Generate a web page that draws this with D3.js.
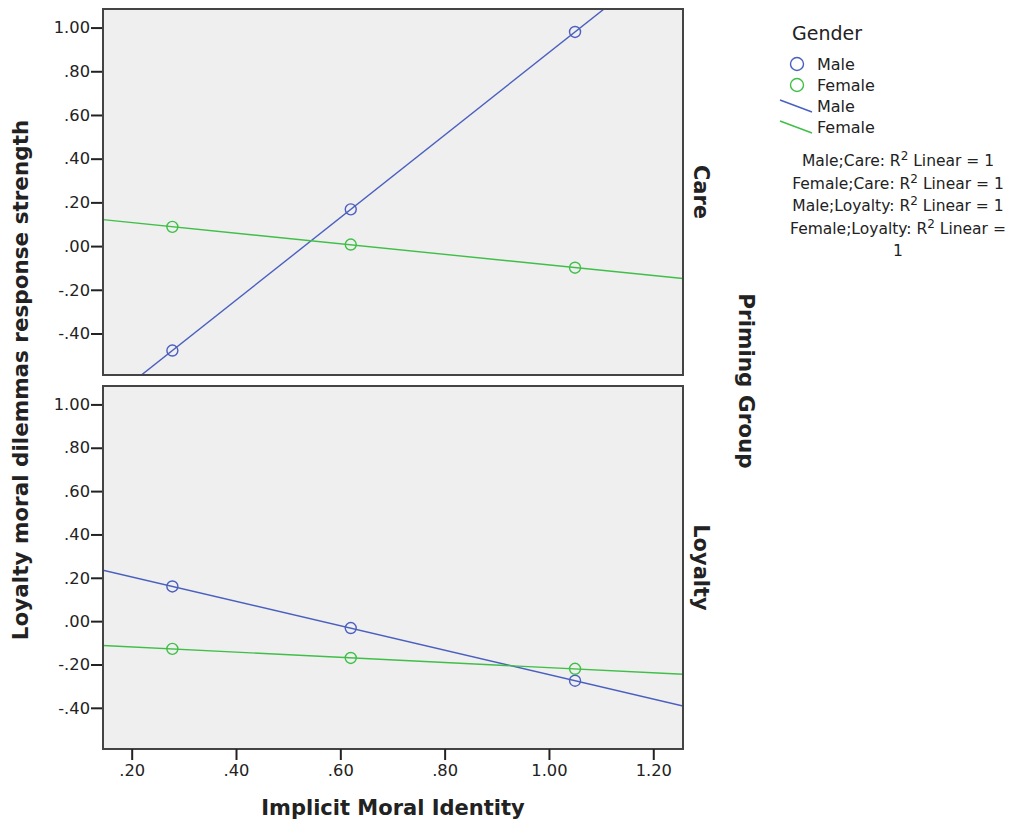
<!DOCTYPE html>
<html><head><meta charset="utf-8">
<script src="https://cdn.jsdelivr.net/npm/d3@7"></script>
<style>body{margin:0;background:#fff}svg{display:block}text{font-family:"DejaVu Sans",Verdana,sans-serif;fill:#222}</style>
</head><body><svg id="c" width="1022" height="822"></svg>
<script>
const panels = ["Care", "Loyalty"];
const genders = ["Male", "Female"];
const xValues = [0.278, 0.62, 1.05];
const careMale = [-0.478, 0.168, 0.98];
const careFemale = [0.088, 0.007, -0.099];
const loyaltyMale = [0.16, -0.032, -0.275];
const loyaltyFemale = [-0.128, -0.17, -0.22];
const xTicks = [0.2, 0.4, 0.6, 0.8, 1.0, 1.2];
const yTicks = [1.0, 0.8, 0.6, 0.4, 0.2, 0.0, -0.2, -0.4];
const r2Labels = [["Male;Care: R", " Linear = 1"], ["Female;Care: R", " Linear = 1"], ["Male;Loyalty: R", " Linear = 1"], ["Female;Loyalty: R", " Linear ="], ["1", null]];

const seriesByPanel = {Care: {Male: careMale, Female: careFemale}, Loyalty: {Male: loyaltyMale, Female: loyaltyFemale}};
const colors = {Male: "#4a5fbf", Female: "#3fbf47"};

const svg = d3.select("#c");
const L = 103, R = 683;
const panelBox = [{top: 9, bottom: 375}, {top: 386, bottom: 749}];
const x = d3.scaleLinear().domain([0.145, 1.257]).range([L, R]);
const fmt = v => { let s = d3.format(".2f")(v).replace("−", "-"); return s.replace(/^0\./, ".").replace(/^-0\./, "-."); };

function fit(xs, ys) {
  const mx = d3.mean(xs), my = d3.mean(ys);
  const b = d3.sum(xs, (v, i) => (v - mx) * (ys[i] - my)) / d3.sum(xs, v => (v - mx) ** 2);
  return [b, my - b * mx];
}

panels.forEach((p, pi) => {
  const box = panelBox[pi];
  const y = d3.scaleLinear().domain([-0.59, 1.085]).range([box.bottom, box.top]);
  const g = svg.append("g");
  g.append("rect").attr("x", L).attr("y", box.top).attr("width", R - L).attr("height", box.bottom - box.top).attr("fill", "#efefef");
  const clipId = "clip" + pi;
  svg.append("clipPath").attr("id", clipId).append("rect").attr("x", L).attr("y", box.top).attr("width", R - L).attr("height", box.bottom - box.top);
  genders.forEach(gd => {
    const ys = seriesByPanel[p][gd];
    const [b, a] = fit(xValues, ys);
    const dom = x.domain();
    g.append("line").attr("clip-path", `url(#${clipId})`)
      .attr("x1", x(dom[0])).attr("y1", y(a + b * dom[0]))
      .attr("x2", x(dom[1])).attr("y2", y(a + b * dom[1]))
      .attr("stroke", colors[gd]).attr("stroke-width", 1.4);
    g.selectAll(null).data(xValues).join("circle")
      .attr("cx", d => x(d)).attr("cy", (d, i) => y(ys[i])).attr("r", 5.5)
      .attr("fill", "none").attr("stroke", colors[gd]).attr("stroke-width", 1.4);
  });
  const ya = g.append("g").attr("transform", `translate(${L},0)`).call(d3.axisLeft(y).tickValues(yTicks).tickFormat(fmt).tickSize(12).tickPadding(1));
  ya.select(".domain").remove();
  ya.selectAll(".tick line").attr("stroke", "#222").attr("stroke-width", 2);
  ya.selectAll(".tick text").attr("font-size", 16.3).attr("font-family", "DejaVu Sans").attr("fill", "#333");
  g.append("rect").attr("x", L).attr("y", box.top).attr("width", R - L).attr("height", box.bottom - box.top).attr("fill", "none").attr("stroke", "#444").attr("stroke-width", 2);
  g.append("text").attr("transform", `translate(${R + 11},${(box.top + box.bottom) / 2}) rotate(90)`)
    .attr("text-anchor", "middle").attr("font-size", 21).attr("font-weight", "bold").text(p);
});

const xa = svg.append("g").attr("transform", `translate(0,${panelBox[1].bottom})`).call(d3.axisBottom(x).tickValues(xTicks).tickFormat(fmt).tickSize(11).tickPadding(4));
xa.select(".domain").remove();
xa.selectAll(".tick line").attr("stroke", "#222").attr("stroke-width", 2);
xa.selectAll(".tick text").attr("font-size", 16.3).attr("font-family", "DejaVu Sans").attr("fill", "#333");

svg.append("text").attr("x", 393).attr("y", 815).attr("text-anchor", "middle").attr("font-size", 21).attr("font-weight", "bold").text("Implicit Moral Identity");
svg.append("text").attr("transform", "translate(28,380) rotate(-90)").attr("text-anchor", "middle").attr("font-size", 21.5).attr("font-weight", "bold").text("Loyalty moral dilemmas response strength");
svg.append("text").attr("transform", "translate(739,381) rotate(90)").attr("text-anchor", "middle").attr("font-size", 21.5).attr("font-weight", "bold").text("Priming Group");

// legend
const lg = svg.append("g");
lg.append("text").attr("x", 792).attr("y", 40).attr("font-size", 19).text("Gender");
genders.forEach((gd, i) => {
  lg.append("circle").attr("cx", 797).attr("cy", 64 + i * 21).attr("r", 6.5).attr("fill", "none").attr("stroke", colors[gd]).attr("stroke-width", 1.4);
  lg.append("text").attr("x", 817).attr("y", 70 + i * 21).attr("font-size", 16).text(gd);
  lg.append("line").attr("x1", 780).attr("y1", 100 + i * 21).attr("x2", 812).attr("y2", 112 + i * 21).attr("stroke", colors[gd]).attr("stroke-width", 1.4);
  lg.append("text").attr("x", 817).attr("y", 112 + i * 21).attr("font-size", 16).text(gd);
});
r2Labels.forEach((t, i) => {
  const tx = lg.append("text").attr("x", 898).attr("y", 166 + i * 22.5).attr("text-anchor", "middle").attr("font-size", 15.5);
  tx.append("tspan").text(t[0]);
  if (t[1] !== null) {
    tx.append("tspan").attr("dy", -6).attr("font-size", 12).text("2");
    tx.append("tspan").attr("dy", 6).text(t[1]);
  }
});
</script></body></html>
